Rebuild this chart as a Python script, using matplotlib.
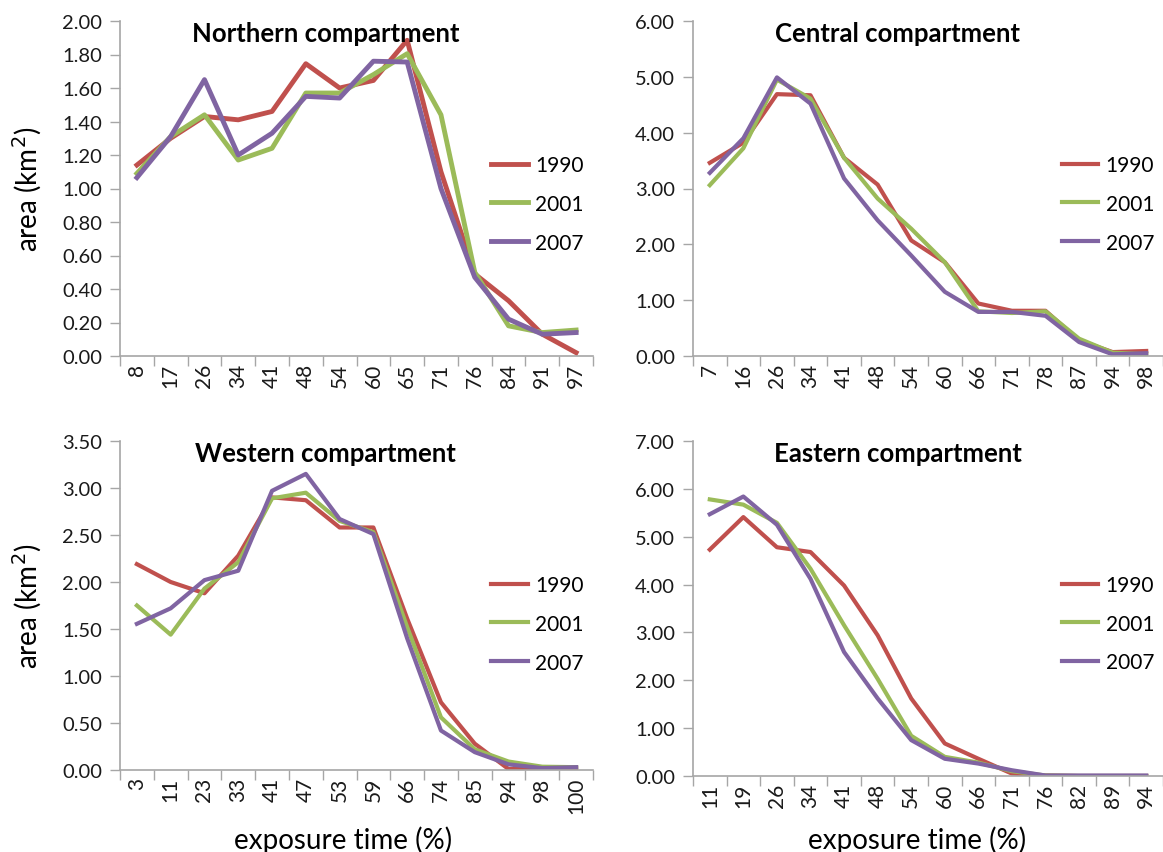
import matplotlib
matplotlib.use("Agg")
import matplotlib.pyplot as plt
import numpy as np
from matplotlib.ticker import FixedLocator, FormatStrFormatter

plt.rcParams['font.family'] = ['Lato', 'DejaVu Sans']

YEARS = ['1990', '2001', '2007']
COLORS = ['#C0504D', '#9BBB59', '#8064A2']

# ---- Northern compartment ----
north_x = ['8', '17', '26', '34', '41', '48', '54', '60', '65', '71', '76', '84', '91', '97']
north_1990 = [1.14, 1.30, 1.43, 1.41, 1.46, 1.745, 1.60, 1.645, 1.885, 1.10, 0.49, 0.33, 0.13, 0.02]
north_2001 = [1.09, 1.31, 1.44, 1.17, 1.24, 1.57, 1.57, 1.68, 1.805, 1.44, 0.50, 0.18, 0.14, 0.155]
north_2007 = [1.065, 1.31, 1.65, 1.20, 1.33, 1.55, 1.54, 1.76, 1.755, 1.00, 0.47, 0.22, 0.13, 0.14]

# ---- Central compartment ----
central_x = ['7', '16', '26', '34', '41', '48', '54', '60', '66', '71', '78', '87', '94', '98']
central_1990 = [3.46, 3.82, 4.69, 4.67, 3.55, 3.07, 2.07, 1.68, 0.94, 0.81, 0.81, 0.28, 0.07, 0.09]
central_2001 = [3.06, 3.72, 4.95, 4.61, 3.55, 2.82, 2.28, 1.68, 0.80, 0.77, 0.80, 0.31, 0.06, 0.03]
central_2007 = [3.28, 3.90, 4.99, 4.52, 3.18, 2.43, 1.80, 1.15, 0.79, 0.79, 0.72, 0.25, 0.03, 0.05]

# ---- Western compartment ----
west_x = ['3', '11', '23', '33', '41', '47', '53', '59', '66', '74', '85', '94', '98', '100']
west_1990 = [2.19, 2.00, 1.88, 2.28, 2.90, 2.87, 2.58, 2.58, 1.61, 0.72, 0.28, 0.01, 0.01, 0.02]
west_2001 = [1.75, 1.44, 1.93, 2.21, 2.89, 2.95, 2.65, 2.53, 1.52, 0.56, 0.22, 0.09, 0.035, 0.03]
west_2007 = [1.555, 1.72, 2.02, 2.12, 2.97, 3.15, 2.67, 2.51, 1.40, 0.42, 0.19, 0.06, 0.02, 0.03]

# ---- Eastern compartment ----
east_x = ['11', '19', '26', '34', '41', '48', '54', '60', '66', '71', '76', '82', '89', '94']
east_1990 = [4.73, 5.41, 4.78, 4.68, 3.98, 2.94, 1.62, 0.68, 0.36, 0.05, 0.01, 0.0, 0.0, 0.0]
east_2001 = [5.78, 5.67, 5.29, 4.33, 3.15, 2.03, 0.84, 0.40, 0.28, 0.10, 0.01, 0.0, 0.0, 0.0]
east_2007 = [5.47, 5.84, 5.25, 4.12, 2.59, 1.62, 0.75, 0.36, 0.26, 0.12, 0.01, 0.01, 0.01, 0.01]

W, H = 1163, 853
fig = plt.figure(figsize=(W / 100, H / 100), dpi=100)


def px_axes(left, right, top, bottom):
    return fig.add_axes([left / W, (H - bottom) / H, (right - left) / W, (bottom - top) / H])


panels = [
    # title, tick labels, series, ymax, ystep, box (left, right, top, bottom) in px, line width
    ('Northern compartment', north_x, [north_1990, north_2001, north_2007], 2.0, 0.2,
     (120, 593, 22, 357), 3.5),
    ('Central compartment', central_x, [central_1990, central_2001, central_2007], 6.0, 1.0,
     (693, 1163, 22, 357), 3.0),
    ('Western compartment', west_x, [west_1990, west_2001, west_2007], 3.5, 0.5,
     (120, 593, 442, 771), 3.0),
    ('Eastern compartment', east_x, [east_1990, east_2001, east_2007], 7.0, 1.0,
     (693, 1163, 442, 777), 3.0),
]

for title, labels, series, ymax, ystep, box, lw in panels:
    ax = px_axes(*box)
    h_px = box[3] - box[2]
    x = np.arange(len(labels))
    for vals, year, col in zip(series, YEARS, COLORS):
        ax.plot(x, vals, color=col, linewidth=lw, label=year, solid_joinstyle='round')

    ax.set_xlim(-0.5, len(labels) - 0.5)
    ax.set_ylim(0, ymax)
    ax.set_yticks(np.arange(0, ymax + ystep / 2, ystep))
    ax.yaxis.set_major_formatter(FormatStrFormatter('%.2f'))
    ax.set_xticks(x)
    ax.set_xticklabels(labels, rotation=90)
    ax.xaxis.set_minor_locator(FixedLocator(np.arange(-0.5, len(labels), 1.0)))

    ax.tick_params(axis='x', which='major', length=0, pad=5, labelsize=15)
    ax.tick_params(axis='x', which='minor', length=7, width=1, color='#a6a6a6', direction='out')
    ax.tick_params(axis='y', length=7, width=1, color='#a6a6a6', pad=6, labelsize=14.5)
    for lab in ax.get_yticklabels() + ax.get_xticklabels():
        lab.set_color('#1a1a1a')

    for side in ('top', 'right'):
        ax.spines[side].set_visible(False)
    for side in ('left', 'bottom'):
        ax.spines[side].set_color('#a6a6a6')
        ax.spines[side].set_linewidth(1.2)

    ax.text(0.435, 1 - 12 / h_px, title, transform=ax.transAxes,
            ha='center', va='center', fontsize=18.5, fontweight='bold')

    ax.legend(loc='upper left', bbox_to_anchor=(0.785, 1 - 134 / h_px), frameon=False,
              fontsize=15, handlelength=1.75, handletextpad=0.35, labelspacing=0.9,
              borderpad=0, borderaxespad=0)

for yc in ((22 + 357) / 2, (442 + 771) / 2):
    fig.text(27 / W, 1 - yc / H, 'area (km$^2$)', rotation=90, ha='center', va='center', fontsize=20)

fig.text(343 / W, 1 - 840 / H, 'exposure time (%)', ha='center', va='center', fontsize=20)
fig.text(917 / W, 1 - 840 / H, 'exposure time (%)', ha='center', va='center', fontsize=20)

fig.savefig('out.png', dpi=100)
